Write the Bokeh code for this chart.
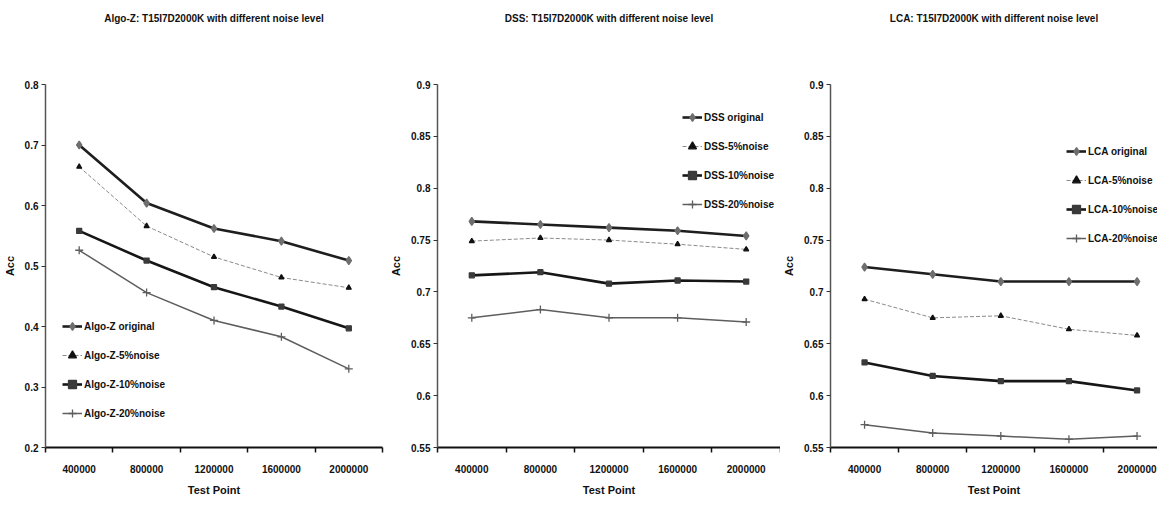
from bokeh.plotting import figure
from bokeh.layouts import row
from bokeh.models import FixedTicker, Legend, LegendItem, Title
from bokeh.embed import file_html
from bokeh.resources import INLINE

# ---------------- data ----------------
test_points = ["400000", "800000", "1200000", "1600000", "2000000"]

algoz_titles = "Algo-Z: T15I7D2000K with different noise level"
algoz_names = ["Algo-Z original", "Algo-Z-5%noise", "Algo-Z-10%noise", "Algo-Z-20%noise"]
algoz_original = [0.700, 0.604, 0.562, 0.541, 0.509]
algoz_5 = [0.664, 0.566, 0.515, 0.481, 0.464]
algoz_10 = [0.558, 0.509, 0.465, 0.433, 0.397]
algoz_20 = [0.526, 0.456, 0.410, 0.383, 0.330]
algoz_yticks = ["0.2", "0.3", "0.4", "0.5", "0.6", "0.7", "0.8"]

dss_titles = "DSS: T15I7D2000K with different noise level"
dss_names = ["DSS original", "DSS-5%noise", "DSS-10%noise", "DSS-20%noise"]
dss_original = [0.768, 0.765, 0.762, 0.759, 0.754]
dss_5 = [0.749, 0.752, 0.750, 0.746, 0.741]
dss_10 = [0.716, 0.719, 0.708, 0.711, 0.710]
dss_20 = [0.675, 0.683, 0.675, 0.675, 0.671]
dss_yticks = ["0.55", "0.6", "0.65", "0.7", "0.75", "0.8", "0.85", "0.9"]

lca_titles = "LCA: T15I7D2000K with different noise level"
lca_names = ["LCA original", "LCA-5%noise", "LCA-10%noise", "LCA-20%noise"]
lca_original = [0.724, 0.717, 0.710, 0.710, 0.710]
lca_5 = [0.693, 0.675, 0.677, 0.664, 0.658]
lca_10 = [0.632, 0.619, 0.614, 0.614, 0.605]
lca_20 = [0.572, 0.564, 0.561, 0.558, 0.561]
lca_yticks = ["0.55", "0.6", "0.65", "0.7", "0.75", "0.8", "0.85", "0.9"]

x_label = "Test Point"
y_label = "Acc"

# ---------------- styles ----------------
FONT = "Liberation Sans"
styles = [
    dict(line_color="#1e1e1e", line_width=2.6, line_dash="solid",
         marker="diamond_cross", m_size=8, m_color="#6e6e6e"),
    dict(line_color="#8a8a8a", line_width=1.0, line_dash="4 2",
         marker="triangle", m_size=5, m_color="#111111"),
    dict(line_color="#161616", line_width=2.6, line_dash="solid",
         marker="square", m_size=5, m_color="#3a3a3a"),
    dict(line_color="#5e5e5e", line_width=1.5, line_dash="solid",
         marker="cross", m_size=8, m_color="#5e5e5e"),
]


def panel(title, names, series, yticks, width, border_left, border_right, x_end, legend_xy):
    xs = list(range(1, len(test_points) + 1))
    ylo, yhi = float(yticks[0]), float(yticks[-1])
    p = figure(width=width, height=498, x_range=(0.5, x_end), y_range=(ylo, yhi),
               output_backend="svg", toolbar_location=None, tools="",
               min_border_left=border_left, min_border_right=border_right,
               min_border_top=0, min_border_bottom=0)
    # spacer between the title and the plotting area
    p.add_layout(Title(text=" ", text_font_size="2px", standoff=47), "above")
    p.add_layout(Title(text=title, align="center", text_font=FONT,
                       text_font_style="bold", text_font_size="10px",
                       text_color="#111111", offset=-8, standoff=20), "above")
    p.outline_line_color = None
    p.grid.visible = False
    p.background_fill_color = "white"
    p.border_fill_color = "white"

    # x axis: categories at integer positions, ticks between categories
    xa = p.xaxis[0]
    xa.ticker = FixedTicker(ticks=xs, minor_ticks=[x - 0.5 for x in xs] + [xs[-1] + 0.5])
    xa.major_label_overrides = {x: lab for x, lab in zip(xs, test_points)}
    xa.major_tick_out = 0
    xa.major_tick_in = 0
    xa.minor_tick_out = 5
    xa.minor_tick_in = 0
    xa.minor_tick_line_color = "#111111"
    xa.minor_tick_line_width = 1.5
    xa.axis_line_color = "#111111"
    xa.axis_line_width = 1.8
    xa.major_label_text_font = FONT
    xa.major_label_text_font_style = "bold"
    xa.major_label_text_font_size = "10px"
    xa.major_label_text_color = "#111111"
    xa.major_label_standoff = 12
    xa.axis_label = x_label
    xa.axis_label_text_font = FONT
    xa.axis_label_text_font_style = "bold"
    xa.axis_label_text_font_size = "11px"
    xa.axis_label_text_color = "#111111"
    xa.axis_label_standoff = 8

    ya = p.yaxis[0]
    tv = [float(t) for t in yticks]
    ya.ticker = FixedTicker(ticks=tv, minor_ticks=[])
    ya.major_label_overrides = {v: t for v, t in zip(tv, yticks)}
    ya.major_tick_out = 4
    ya.major_tick_in = 0
    ya.major_tick_line_color = "#333333"
    ya.axis_line_color = "#555555"
    ya.axis_line_width = 1.5
    ya.major_label_text_font = FONT
    ya.major_label_text_font_style = "bold"
    ya.major_label_text_font_size = "10px"
    ya.major_label_text_color = "#111111"
    ya.major_label_standoff = 3
    ya.axis_label = y_label
    ya.axis_label_text_font = FONT
    ya.axis_label_text_font_style = "bold"
    ya.axis_label_text_font_size = "11px"
    ya.axis_label_text_color = "#111111"
    ya.axis_label_standoff = 6

    items = []
    for name, vals, st in zip(names, series, styles):
        r1 = p.line(xs, vals, line_color=st["line_color"], line_width=st["line_width"],
                    line_dash=st["line_dash"])
        r2 = p.scatter(xs, vals, marker=st["marker"], size=st["m_size"],
                       line_color=st["m_color"], fill_color=st["m_color"], line_width=1.3)
        items.append(LegendItem(label=name, renderers=[r1, r2]))
    leg = Legend(items=items, location=legend_xy, background_fill_alpha=0,
                 border_line_color=None, padding=0, margin=0, spacing=9,
                 glyph_width=20, glyph_height=20, label_height=20,
                 label_standoff=2,
                 label_text_font=FONT, label_text_font_style="bold",
                 label_text_font_size="10px", label_text_color="#111111")
    p.add_layout(leg, "center")
    return p


p1 = panel(algoz_titles, algoz_names, [algoz_original, algoz_5, algoz_10, algoz_20],
           algoz_yticks, 385, 37, 3, 5.5, (17, 24))
p2 = panel(dss_titles, dss_names, [dss_original, dss_5, dss_10, dss_20],
           dss_yticks, 395, 52, 0, 5.5, (245, 233))
p3 = panel(lca_titles, lca_names, [lca_original, lca_5, lca_10, lca_20],
           lca_yticks, 377, 49, 0, 5.3, (236, 199))

layout = row(p1, p2, p3, spacing=0)
open("out.html", "w").write(file_html(layout, INLINE))
